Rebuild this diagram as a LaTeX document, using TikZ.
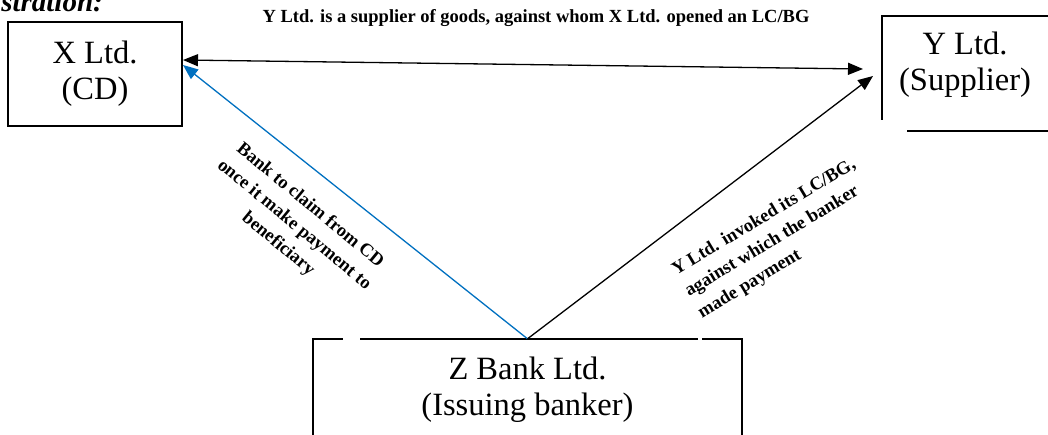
\documentclass[tikz,border=0pt]{standalone}
\usepackage{fontspec}
\setmainfont{Liberation Serif}
\usetikzlibrary{arrows.meta}
\definecolor{lineblue}{RGB}{0,112,192}
\begin{document}
\begin{tikzpicture}[x=1pt,y=-1pt,
  boxtext/.style={font=\fontsize{32.5}{36}\selectfont, align=center, inner sep=0pt},
  lbl/.style={font=\fontsize{18.5}{25}\selectfont\bfseries, inner sep=0pt},
  frame/.style={line width=2pt},
  tip/.style={Triangle[length=15pt,width=12pt]},
  conn/.style={line width=1.3pt, -{Triangle[length=15pt,width=12pt]}},
  bothconn/.style={line width=1.3pt, {Triangle[length=15pt,width=12pt]}-{Triangle[length=15pt,width=12pt]}},
]
\useasboundingbox (0,0) rectangle (1048,434);
\clip (0,0) rectangle (1048,434);

% heading (cut off at the top left)
\node[font=\fontsize{29}{32}\selectfont\bfseries\itshape, anchor=base east, inner sep=0pt] (illus) at (103,11) {Illustration:};

% boxes
\node[boxtext, draw, frame, minimum width=174pt, minimum height=104pt] (xb) at (95,74) {X Ltd.\\(CD)};
\node[boxtext] (yb) at (965,65) {Y Ltd.\\(Supplier)};
\node[boxtext, minimum width=429pt, minimum height=102pt] (zb) at (527.5,390) {Z Bank Ltd.\\(Issuing banker)};

% partial frame of Y Ltd.
\draw[frame] (1050,16) -- (882,16) -- (882,120);
\draw[frame] (907,131) -- (1050,131);

% partial frame of Z Bank Ltd.
\draw[frame] (313,440) -- (313,339) -- (343,339);
\draw[frame] (360,339) -- (698,339);
\draw[frame] (702,339) -- (742,339) -- (742,440);

% connector end points
\coordinate (ytip1) at (863,69);
\coordinate (ytip2) at (873,76);

% connectors
\draw[bothconn] ([yshift=14pt]xb.east) -- (ytip1);
\draw[conn, color=lineblue] (zb.north) -- ([yshift=9pt]xb.east);
\draw[conn] (zb.north) -- (ytip2);

% labels
\node[lbl, anchor=base] (toplbl) at (536,22) {Y Ltd. is a supplier of goods, against whom X Ltd. opened an LC/BG};
\node[lbl, align=center, rotate=-39.5] (bluelbl) at (294,225) {Bank to claim from CD\\once it make payment to\\beneficiary};
\node[lbl, align=left, rotate=31] (blacklbl) at (777,239) {Y Ltd. invoked its LC/BG,\\against which the banker\\made payment};
\end{tikzpicture}
\end{document}
